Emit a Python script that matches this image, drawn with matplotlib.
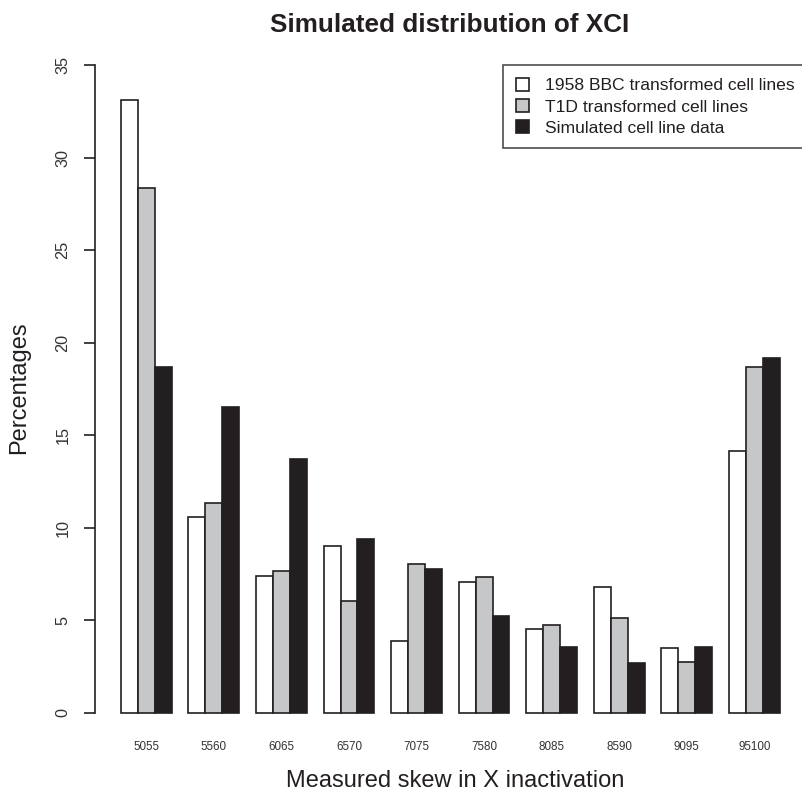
import matplotlib
matplotlib.use('Agg')
import matplotlib.pyplot as plt
from matplotlib.patches import Patch
import numpy as np

plt.rcParams['font.family'] = ['Liberation Sans', 'DejaVu Sans']

categories = ['5055', '5560', '6065', '6570', '7075', '7580', '8085', '8590', '9095', '95100']
bbc_1958 = [33.1, 10.6, 7.4, 9.0, 3.85, 7.08, 4.5, 6.77, 3.52, 14.15]
t1d = [28.35, 11.35, 7.66, 6.03, 8.03, 7.31, 4.76, 5.12, 2.76, 18.66]
simulated = [18.66, 16.52, 13.69, 9.38, 7.75, 5.22, 3.57, 2.7, 3.57, 19.15]
series_names = ['1958 BBC transformed cell lines', 'T1D transformed cell lines',
                'Simulated cell line data']
colors = ['white', '#c6c7c9', '#231f20']
edge = '#231f20'


def plot():
    fig = plt.figure(figsize=(8.03, 7.95), dpi=100)
    ax = fig.add_axes([0.1178, 0.0709, 0.8859, 0.8799])

    # R style barplot, beside=TRUE, space=c(0,1)
    n = len(categories)
    starts = 1 + 4 * np.arange(n)
    for j, vals in enumerate([bbc_1958, t1d, simulated]):
        ax.bar(starts + j, vals, width=1.0, align='edge', color=colors[j],
               edgecolor=edge, linewidth=1.2, label=series_names[j])

    ax.set_xlim(-0.56, 41.56)
    ax.set_ylim(-1.4, 36.4)
    ax.set_xticks(starts + 1.5)
    ax.set_xticklabels(categories, fontsize=8.4, color='#333333')
    ax.tick_params(axis='x', length=0, pad=1.5)
    ax.set_yticks(range(0, 36, 5))
    ax.set_yticklabels([str(v) for v in range(0, 36, 5)], rotation=90, va='center',
                       fontsize=11.7, color='#333333')
    ax.tick_params(axis='y', length=8, width=1.2, pad=9.5, color=edge)
    for s in ['top', 'right', 'bottom']:
        ax.spines[s].set_visible(False)
    ax.spines['left'].set_bounds(0, 35)
    ax.spines['left'].set_linewidth(1.2)
    ax.spines['left'].set_color(edge)

    fig.text(450 / 803, 0.960, 'Simulated distribution of XCI', ha='center',
             va='baseline', fontsize=18.8, fontweight='bold', color=edge)
    fig.text(455 / 803, 0.0101, 'Measured skew in X inactivation', ha='center',
             va='baseline', fontsize=17, color=edge)
    fig.text(19 / 803, 0.512, 'Percentages', ha='center', va='center', rotation=90,
             fontsize=17, color=edge)

    handles = [Patch(facecolor=colors[j], edgecolor=edge, linewidth=1.2)
               for j in range(3)]
    leg = fig.legend(handles, series_names, loc='upper left',
                     bbox_to_anchor=(503 / 803, 1 - 65 / 795), borderaxespad=0,
                     fontsize=12.6, frameon=True, fancybox=False, handlelength=0.78,
                     handleheight=0.78, handletextpad=0.87, labelspacing=0.31,
                     borderpad=0.73)
    leg.get_frame().set_edgecolor(edge)
    leg.get_frame().set_linewidth(1.2)
    for t in leg.get_texts():
        t.set_color(edge)

    fig.savefig('out.png', dpi=100)


if __name__ == '__main__':
    plot()
